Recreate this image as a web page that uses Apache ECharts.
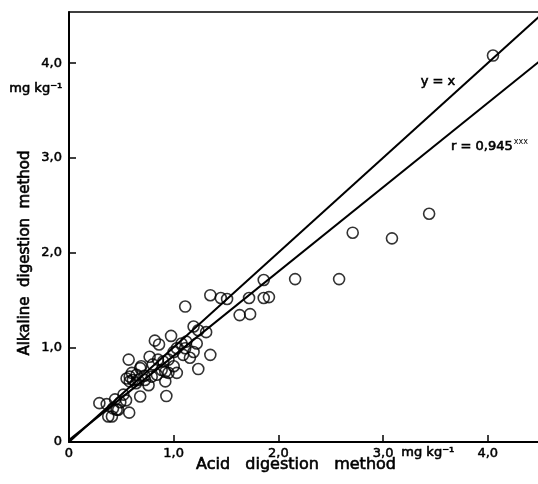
<!DOCTYPE html>
<html>
<head>
<meta charset="utf-8">
<script src="https://cdn.jsdelivr.net/npm/echarts@6/dist/echarts.min.js"></script>
<style>
  html, body { margin: 0; padding: 0; background: #fff; }
  #chart { width: 538px; height: 484px; }
</style>
</head>
<body>
<div id="chart"></div>
<script>
// measured samples: acid digestion (x) vs alkaline digestion (y), mg kg-1
var acidValues = [
  4.05, 3.44, 2.71, 3.085, 2.58, 2.16, 1.86, 1.35, 1.45, 1.51, 1.72, 1.86, 1.91, 1.63, 1.73, 1.11,
  1.19, 1.235, 1.31, 0.975, 0.82, 0.86, 1.075, 1.12, 1.22, 1.03, 1.11, 1.19, 1.35, 1.155, 1.09, 1.0,
  0.77, 0.85, 0.95, 1.0, 1.235, 1.03, 0.92, 0.57, 0.69, 0.60, 0.645, 0.55, 0.58, 0.66, 0.725, 0.79,
  0.84, 0.885, 0.95, 0.92, 0.76, 0.68, 0.93, 0.575, 0.545, 0.47, 0.375, 0.41, 0.29, 0.36, 0.42, 0.49,
  0.455, 0.61, 0.58, 0.68, 0.80, 0.90, 0.72, 0.52, 0.44, 0.64
];
var alkalineValues = [
  4.08, 2.41, 2.21, 2.15, 1.72, 1.72, 1.71, 1.55, 1.52, 1.51, 1.52, 1.52, 1.53, 1.34, 1.35, 1.43,
  1.22, 1.18, 1.16, 1.12, 1.07, 1.03, 1.04, 1.06, 1.04, 0.99, 0.99, 0.95, 0.92, 0.89, 0.92, 0.95,
  0.90, 0.87, 0.87, 0.80, 0.77, 0.73, 0.74, 0.87, 0.80, 0.73, 0.71, 0.67, 0.64, 0.655, 0.655, 0.69,
  0.71, 0.76, 0.73, 0.64, 0.60, 0.48, 0.485, 0.31, 0.44, 0.34, 0.27, 0.27, 0.41, 0.40, 0.355, 0.42,
  0.34, 0.655, 0.69, 0.78, 0.82, 0.85, 0.70, 0.50, 0.45, 0.62
];
// y = x and regression line end points
var identityLine = [[0, 0], [4.5, 4.5]];
var regressionLine = [[0, 0.02], [4.5, 4.025]];
var tickValues = [0, 1, 2, 3, 4];
var tickLabels = ['0', '1,0', '2,0', '3,0', '4,0'];

var points = acidValues.map(function (x, i) { return [x, alkalineValues[i]]; });

function tickText(v) {
  var idx = tickValues.indexOf(Math.round(v * 100) / 100);
  return idx >= 0 ? tickLabels[idx] : '';
}

// slightly heavier than regular, lighter than bold
var ink = { fill: '#000', stroke: '#000', lineWidth: 0.6 };
var labelFont = { color: '#000', fontSize: 13, fontFamily: 'DejaVu Sans', textBorderColor: '#000', textBorderWidth: 0.5 };

function txt(extra) {
  return Object.assign({}, ink, extra);
}

var option = {
  animation: false,
  backgroundColor: '#fff',
  grid: { left: 69, top: 12, right: 0, bottom: 42 },
  xAxis: [
    {
      type: 'value', min: 0, max: 4.48, interval: 1,
      axisLine: { lineStyle: { color: '#000', width: 2 } },
      axisTick: { inside: true, length: 7, lineStyle: { color: '#000', width: 1.5 } },
      axisLabel: Object.assign({ margin: 5, formatter: tickText, showMaxLabel: false }, labelFont),
      splitLine: { show: false }
    },
    {
      type: 'value', min: 0, max: 4.48, position: 'top',
      axisLine: { show: true, onZero: false, lineStyle: { color: '#000', width: 1.5 } },
      axisTick: { show: false }, axisLabel: { show: false }, splitLine: { show: false }
    }
  ],
  yAxis: {
    type: 'value', min: 0, max: 4.54, interval: 1,
    axisLine: { show: true, lineStyle: { color: '#000', width: 2 } },
    axisTick: { show: true, inside: true, length: 7, lineStyle: { color: '#000', width: 1.5 } },
    axisLabel: Object.assign({ margin: 7, formatter: tickText, showMaxLabel: false }, labelFont),
    splitLine: { show: false }
  },
  graphic: [
    { type: 'text', left: 401, top: 446,
      style: txt({ text: 'mg kg⁻¹', font: '13px "DejaVu Sans"' }) },
    { type: 'text', left: 9, top: 82,
      style: txt({ text: 'mg kg⁻¹', font: '13px "DejaVu Sans"' }) },
    { type: 'text', x: 296, y: 465,
      style: txt({ text: 'Acid   digestion   method', font: '16px "DejaVu Sans"',
               align: 'center', verticalAlign: 'middle' }) },
    { type: 'text', x: 25, y: 253, rotation: Math.PI / 2,
      style: txt({ text: 'Alkaline  digestion  method', font: '15px "DejaVu Sans"',
               align: 'center', verticalAlign: 'middle' }) },
    { type: 'text', x: 438, y: 82,
      style: txt({ text: 'y = x', font: '13px "DejaVu Sans"',
               align: 'center', verticalAlign: 'middle' }) },
    { type: 'text', x: 451, y: 138,
      style: { text: '{a|r = 0,945}{b|xxx}',
               rich: {
                 a: { font: '13px "DejaVu Sans"', fill: '#000', stroke: '#000', lineWidth: 0.6 },
                 b: { font: '8px "DejaVu Sans"', fill: '#000', padding: [0, 0, 9, 1] }
               } } }
  ],
  series: [
    {
      name: 'y = x', type: 'line', data: identityLine, symbol: 'none',
      lineStyle: { color: '#000', width: 2 }, z: 2
    },
    {
      name: 'regression', type: 'line', data: regressionLine, symbol: 'none',
      lineStyle: { color: '#000', width: 2 }, z: 2
    },
    {
      name: 'samples', type: 'scatter', data: points, symbol: 'circle', symbolSize: 11,
      itemStyle: { color: 'rgba(255,255,255,0)', borderColor: '#000', borderWidth: 1.6 }, z: 3
    }
  ]
};

var chart = echarts.init(document.getElementById('chart'));
chart.setOption(option);
</script>
</body>
</html>
